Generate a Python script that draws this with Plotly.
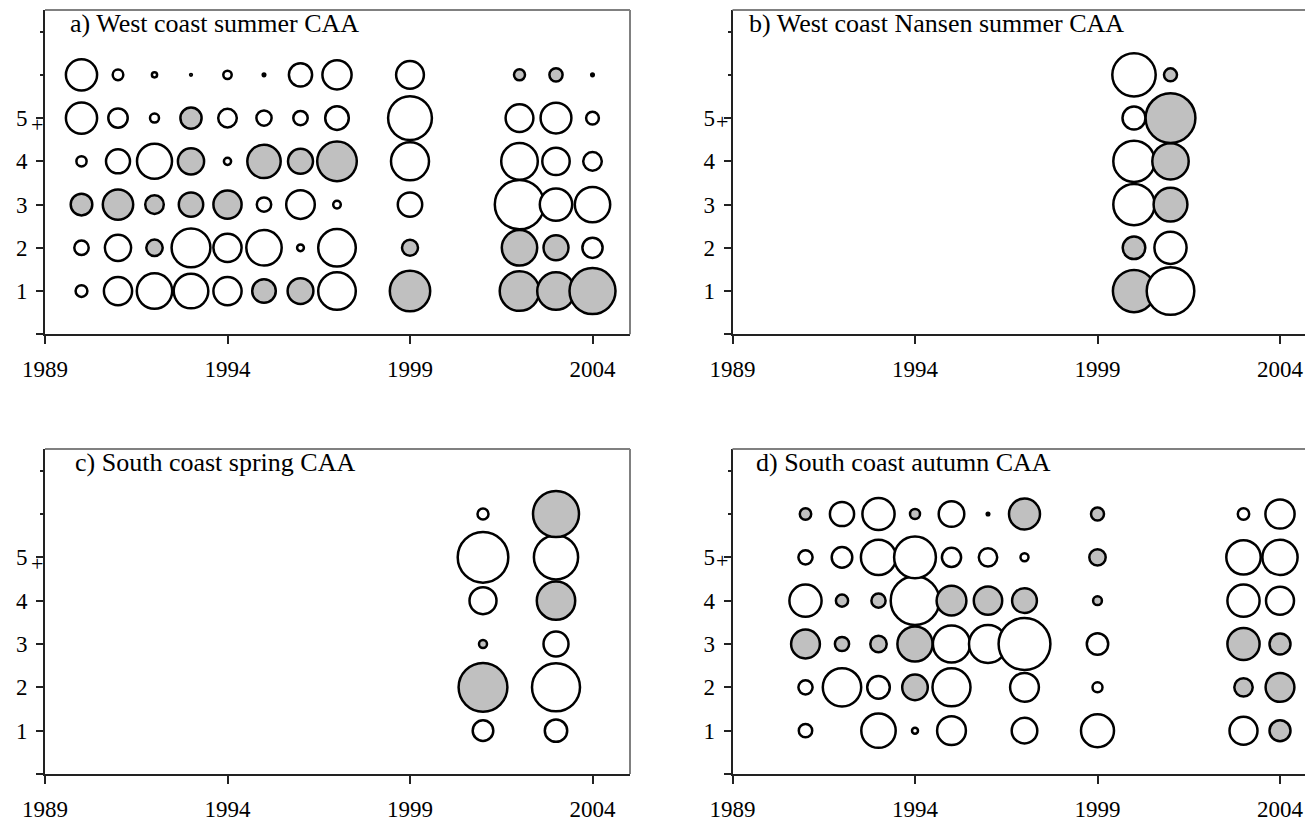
import plotly.graph_objects as go

# Catch-at-age residuals by survey, age (rows) and year.
# Positive residuals are drawn grey, negative ones white; bubble diameter ~ |residual|.
AGE_LABELS = ["1", "2", "3", "4", "5"]

# a) West coast summer
a_years = [1990, 1991, 1992, 1993, 1994, 1995, 1996, 1997, 1999, 2002, 2003, 2004]
a_age1 = [-0.59, -1.41, -1.77, -1.73, -1.41, 1.18, 1.29, -1.88, 2.02, 1.98, 1.88, 2.30]
a_age2 = [-0.72, -1.31, 0.82, -1.94, -1.41, -1.77, -0.34, -1.88, 0.80, 1.77, 1.25, -1.01]
a_age3 = [1.08, 1.52, 0.93, 1.22, 1.41, -0.72, -1.43, -0.38, -1.22, -2.47, -1.62, -1.77]
a_age4 = [-0.51, -1.20, -1.75, 1.31, -0.36, 1.67, 1.25, 1.98, -1.90, -1.83, -1.37, -0.93]
a_age5 = [-1.56, -0.97, -0.45, 1.06, -0.93, -0.76, -0.72, -1.18, -2.19, -1.39, -1.54, -0.64]
a_age6 = [-1.56, -0.53, -0.26, -0.09, -0.42, -0.13, -1.16, -1.46, -1.39, 0.55, 0.66, -0.13]

# b) West coast Nansen summer
b_years = [2000, 2001]
b_age1 = [2.11, -2.38]
b_age2 = [1.13, -1.61]
b_age3 = [-2.07, 1.69]
b_age4 = [-2.07, 1.82]
b_age5 = [-1.15, 2.49]
b_age6 = [-2.17, 0.65]

# c) South coast spring
c_years = [2001, 2003]
c_age1 = [-1.03, -1.12]
c_age2 = [2.44, -2.40]
c_age3 = [0.40, -1.25]
c_age4 = [-1.35, 1.92]
c_age5 = [-2.53, -2.21]
c_age6 = [-0.55, 2.30]

# d) South coast autumn (None = no estimate)
d_years = [1991, 1992, 1993, 1994, 1995, 1996, 1997, 1999, 2003, 2004]
d_age1 = [-0.67, None, -1.72, -0.30, -1.44, None, -1.28, -1.65, -1.40, 1.05]
d_age2 = [-0.71, -1.92, -1.13, 1.28, -1.90, None, -1.44, -0.50, 0.92, 1.44]
d_age3 = [1.44, 0.71, 0.82, 1.76, -1.86, -1.90, -2.59, -1.07, 1.61, 1.05]
d_age4 = [-1.61, 0.61, 0.71, -2.43, 1.49, 1.42, 1.24, 0.44, -1.61, -1.40]
d_age5 = [-0.71, -1.03, -1.76, -2.09, -0.96, -0.92, -0.40, 0.82, -1.72, -1.76]
d_age6 = [0.57, -1.21, -1.61, 0.50, -1.28, -0.13, 1.55, 0.65, -0.57, -1.46]

W, H = 1305, 824
SCALE = 20.0          # px of diameter per unit residual
GREY = "#c0c0c0"
AXIS = "#222222"
BORDER = "#808080"
FONT = "Liberation Serif, Times New Roman, serif"
PX_PER_YEAR = 36.5

panels = [
    dict(title="a) West coast summer CAA", years=a_years,
         ages=[a_age1, a_age2, a_age3, a_age4, a_age5, a_age6],
         left=45, right=630, top=10, bottom=334.3, tdx=23, pdx=-8, pdy=-6),
    dict(title="b) West coast Nansen summer CAA", years=b_years,
         ages=[b_age1, b_age2, b_age3, b_age4, b_age5, b_age6],
         left=732.5, right=W, top=10, bottom=334.3, tdx=14, pdx=-11, pdy=-3),
    dict(title="c) South coast spring CAA", years=c_years,
         ages=[c_age1, c_age2, c_age3, c_age4, c_age5, c_age6],
         left=45, right=630, top=449, bottom=774, tdx=28, pdx=-8, pdy=-6),
    dict(title="d) South coast autumn CAA", years=d_years,
         ages=[d_age1, d_age2, d_age3, d_age4, d_age5, d_age6],
         left=732.5, right=W, top=449, bottom=774, tdx=21, pdx=-11, pdy=-3),
]

fig = go.Figure()
annotations = []
shapes = []

for i, p in enumerate(panels, start=1):
    sfx = "" if i == 1 else str(i)
    xs, ys, vs = [], [], []
    for j, yr in enumerate(p["years"]):
        for age, row in enumerate(p["ages"], start=1):
            v = row[j]
            if v is None:
                continue
            xs.append(yr)
            ys.append(age)
            vs.append(v)

    fig.add_trace(go.Scatter(
        x=xs, y=ys, mode="markers", showlegend=False, hoverinfo="x+y+text",
        text=[f"{v:+.2f}" for v in vs],
        marker=dict(
            symbol="circle",
            size=[max(abs(v) * SCALE, 1.5) for v in vs],
            color=[GREY if v > 0 else "white" for v in vs],
            line=dict(color="black", width=2.5),
            opacity=1,
        ),
        xaxis=f"x{sfx}", yaxis=f"y{sfx}", cliponaxis=False,
    ))

    xmax = 1989 + (p["right"] - p["left"]) / PX_PER_YEAR
    fig.update_layout(**{
        f"xaxis{sfx}": dict(
            domain=[p["left"] / W, p["right"] / W], range=[1989, xmax],
            anchor=f"y{sfx}", tickvals=[1989, 1994, 1999, 2004],
            ticks="outside", ticklen=8, tickwidth=1.5, tickcolor=AXIS,
            showline=True, linecolor=AXIS, linewidth=2, automargin=False,
            showgrid=False, zeroline=False, ticklabelstandoff=5,
            tickfont=dict(family=FONT, size=23, color="black"),
        ),
        f"yaxis{sfx}": dict(
            domain=[1 - p["bottom"] / H, 1 - p["top"] / H], range=[0, 7.5],
            anchor=f"x{sfx}", tickvals=[0, 1, 2, 3, 4, 5],
            ticktext=[""] + AGE_LABELS,
            ticks="outside", ticklen=7, tickwidth=1.5, tickcolor=AXIS,
            minor=dict(tickmode="array", tickvals=[6, 7], ticks="outside",
                       ticklen=3, tickwidth=1.5, tickcolor=AXIS),
            showline=True, linecolor=AXIS, linewidth=2, automargin=False,
            showgrid=False, zeroline=False, ticklabelstandoff=4,
            tickfont=dict(family=FONT, size=23, color="black"),
        ),
    })

    annotations.append(dict(
        text=p["title"], xref=f"x{sfx} domain", yref=f"y{sfx} domain",
        x=0, y=1, xanchor="left", yanchor="top", xshift=p["tdx"], yshift=3,
        showarrow=False, font=dict(family=FONT, size=26, color="black"),
    ))
    annotations.append(dict(
        text="+", xref=f"x{sfx} domain", yref=f"y{sfx}",
        x=0, y=5, xanchor="center", yanchor="middle",
        xshift=p["pdx"], yshift=p["pdy"],
        showarrow=False, font=dict(family=FONT, size=22, color="black"),
    ))

    # grey frame on the top (and right, where it fits on the page)
    shapes.append(dict(type="line", xref=f"x{sfx} domain", yref=f"y{sfx} domain",
                       x0=0, x1=1, y0=1, y1=1, line=dict(color=BORDER, width=2)))
    if p["right"] < W:
        shapes.append(dict(type="line", xref=f"x{sfx} domain", yref=f"y{sfx} domain",
                           x0=1, x1=1, y0=0, y1=1, line=dict(color=BORDER, width=2)))

fig.update_layout(
    width=W, height=H, margin=dict(l=0, r=0, t=0, b=0, autoexpand=False),
    paper_bgcolor="white", plot_bgcolor="white",
    annotations=annotations, shapes=shapes,
    font=dict(family=FONT, color="black"),
)

fig.write_html("out.html")
